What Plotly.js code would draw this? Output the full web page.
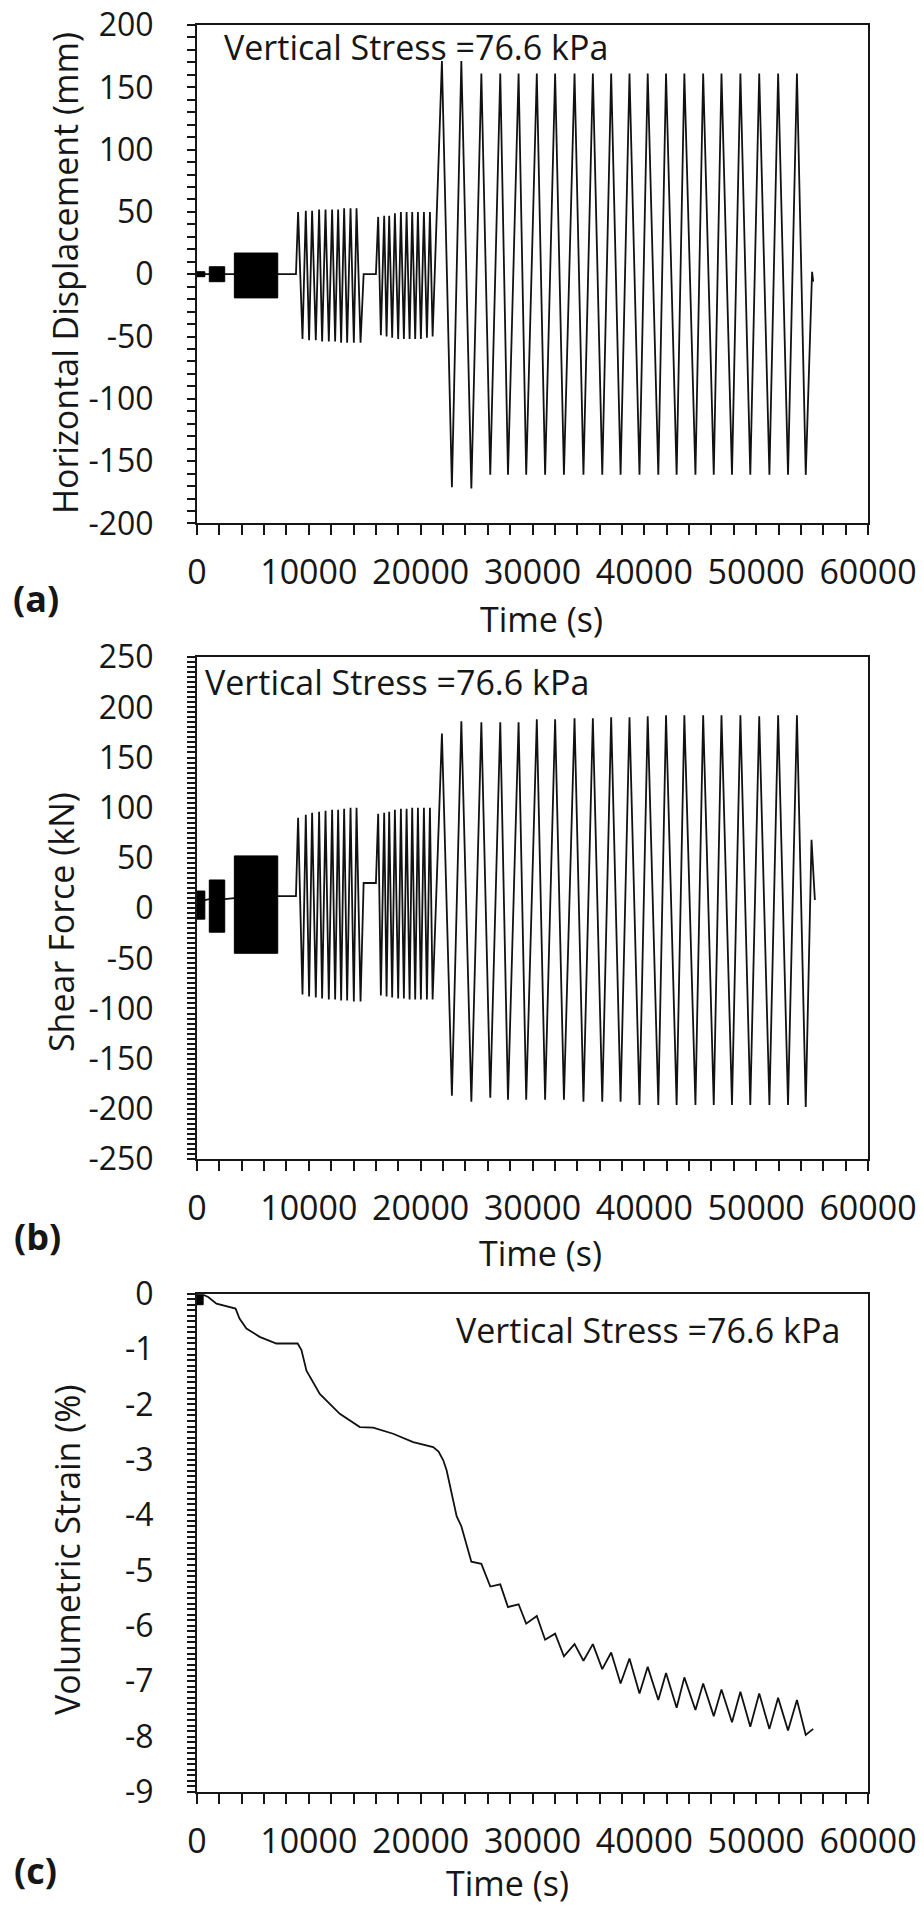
<!DOCTYPE html>
<html>
<head>
<meta charset="utf-8">
<script src="https://cdn.plot.ly/plotly-3.0.1.min.js"></script>
<style>
html, body { margin: 0; padding: 0; background: #ffffff; }
#chart { width: 924px; height: 1907px; }
</style>
</head>
<body>
<div id="chart"></div>
<script>
// ---------------- DATA ----------------
// Timing of the resolved load cycles (s), shared by all three records
const stage3UpT = [9040, 9729, 10293, 10919, 11492, 12083, 12620, 13157, 13729, 14266];
const stage3LoT = [9433, 10024, 10624, 11188, 11787, 12351, 12888, 13425, 14025, 14624];
const stage4UpT = [16200, 16737, 17185, 17695, 18232, 18742, 19243, 19754, 20291, 20828];
const stage4LoT = [16441, 16951, 17452, 17989, 18500, 19010, 19511, 20021, 20559, 21069];
const stage5UpT = [21900, 23637, 25427, 27118, 28756, 30385, 32023, 33759, 35397, 37035,
                   38673, 40302, 41940, 43578, 45260, 46898, 48590, 50272, 51964, 53646];
const stage5LoT = [22794, 24533, 26224, 27808, 29437, 31128, 32811, 34556, 36238, 37876,
                   39567, 41250, 42888, 44570, 46208, 47837, 49475, 51184, 52849, 54433];

// Dense (unresolved) cycling stages: start and end times (s)
const denseStartT = [0, 1100, 3340];
const denseEndT = [700, 2480, 7220];

// (a) Horizontal displacement (mm)
const hdDenseHigh = [2, 6, 17];
const hdDenseLow = [-2, -6, -19];
const hdRestT = [0, 8850, 14900, 16000, 55000, 55100];
const hdRestV = [0, 0, 0, 0, 2, -6];
const hdStage3Up = [50, 51, 51, 52, 52, 52, 52, 53, 53, 53];
const hdStage3Lo = [-52, -53, -53, -54, -54, -54, -55, -55, -55, -55];
const hdStage4Up = [46, 47, 47, 49, 50, 50, 50, 50, 50, 50];
const hdStage4Lo = [-49, -50, -51, -52, -52, -52, -52, -52, -51, -50];
const hdStage5Up = [171, 171, 161, 161, 161, 161, 161, 161, 161, 161,
                    161, 161, 161, 161, 161, 161, 161, 161, 161, 161];
const hdStage5Lo = [-171, -172, -161, -161, -161, -161, -161, -161, -161, -161,
                    -161, -161, -161, -161, -161, -161, -161, -161, -161, -161];

// (b) Shear force (kN)
const sfDenseHigh = [17, 28, 52];
const sfDenseLow = [-11, -24, -45];
const sfRestT = [0, 700, 1100, 2480, 3340, 7220, 8850, 14900, 16000, 54950, 55250];
const sfRestV = [8, 8, 9, 9, 10, 12, 12, 25, 25, 68, 8];
const sfStage3Up = [90, 93, 95, 96, 97, 98, 98, 99, 100, 100];
const sfStage3Lo = [-86, -88, -89, -90, -91, -91, -92, -92, -93, -93];
const sfStage4Up = [94, 95, 96, 98, 99, 99, 100, 100, 100, 100];
const sfStage4Lo = [-87, -88, -89, -90, -90, -91, -91, -91, -91, -91];
const sfStage5Up = [174, 186, 185, 185, 185, 188, 188, 189, 189, 190,
                    190, 191, 192, 192, 192, 192, 192, 191, 192, 192];
const sfStage5Lo = [-187, -193, -189, -191, -191, -191, -191, -193, -193, -193,
                    -196, -196, -196, -196, -196, -196, -196, -196, -196, -198];

// (c) Volumetric strain (%)
const vsDenseStartT = [0];
const vsDenseEndT = [550];
const vsDenseHigh = [-0.02];
const vsDenseLow = [-0.2];
const vsT = [550, 1000, 1740, 2900, 3450, 3800, 4420, 5600, 7100, 9000, 9340, 9790,
             10980, 12770, 14560, 15750, 17540, 19330, 21120, 21600, 22020, 22320, 22794, 23216, 55100];
const vsV = [-0.02, -0.06, -0.18, -0.24, -0.27, -0.45, -0.63, -0.78, -0.90, -0.90, -1.02, -1.39,
             -1.81, -2.17, -2.41, -2.42, -2.53, -2.68, -2.77, -2.85, -3.01, -3.19, -3.60, -4.02, -7.86];
const vsCycleUp = [-4.20, -4.88, -5.25, -5.61, -5.82, -6.14, -6.33, -6.33, -6.48, -6.59,
                   -6.74, -6.85, -6.93, -7.04, -7.15, -7.19, -7.22, -7.30, -7.34];
const vsCycleLo = [-4.84, -5.29, -5.66, -5.96, -6.25, -6.55, -6.63, -6.78, -7.04, -7.22,
                   -7.34, -7.48, -7.52, -7.63, -7.74, -7.82, -7.86, -7.89, -7.97];

// Tick labels
const timeTickVals = [0, 10000, 20000, 30000, 40000, 50000, 60000];
const timeTickText = ['0', '10000', '20000', '30000', '40000', '50000', '60000'];
const hdTickVals = [-200, -150, -100, -50, 0, 50, 100, 150, 200];
const hdTickText = ['-200', '-150', '-100', '-50', '0', '50', '100', '150', '200'];
const sfTickVals = [-250, -200, -150, -100, -50, 0, 50, 100, 150, 200, 250];
const sfTickText = ['-250', '-200', '-150', '-100', '-50', '0', '50', '100', '150', '200', '250'];
const vsTickVals = [-9, -8, -7, -6, -5, -4, -3, -2, -1, 0];
const vsTickText = ['-9', '-8', '-7', '-6', '-5', '-4', '-3', '-2', '-1', '0'];

// Texts
const stressLabel = 'Vertical Stress =76.6 kPa';
const timeTitle = 'Time (s)';
const yTitles = ['Horizontal Displacement (mm)', 'Shear Force (kN)', 'Volumetric Strain (%)'];
const panelLetters = ['(a)', '(b)', '(c)'];

// ---------------- BUILD TRACES ----------------
function mergeSeries(groups) {
  const pts = [];
  groups.forEach(function (g) {
    for (let i = 0; i < g[0].length; i++) pts.push([g[0][i], g[1][i]]);
  });
  pts.sort(function (a, b) { return a[0] - b[0]; });
  return { x: pts.map(function (p) { return p[0]; }), y: pts.map(function (p) { return p[1]; }) };
}
function denseBlocks(t0, t1, hi, lo) {
  const x = [], y = [];
  for (let i = 0; i < t0.length; i++) {
    x.push(t0[i], t0[i], t1[i], t1[i], t0[i], null);
    y.push(lo[i], hi[i], hi[i], lo[i], lo[i], null);
  }
  return { x: x, y: y };
}

const INK = '#161616';
const LINE = '#111111';
const FONT = 'Open Sans, sans-serif';
const FS = 34;
const YFS = 32;

const hdLine = mergeSeries([[hdRestT, hdRestV], [stage3UpT, hdStage3Up], [stage3LoT, hdStage3Lo],
  [stage4UpT, hdStage4Up], [stage4LoT, hdStage4Lo], [stage5UpT, hdStage5Up], [stage5LoT, hdStage5Lo]]);
const sfLine = mergeSeries([[sfRestT, sfRestV], [stage3UpT, sfStage3Up], [stage3LoT, sfStage3Lo],
  [stage4UpT, sfStage4Up], [stage4LoT, sfStage4Lo], [stage5UpT, sfStage5Up], [stage5LoT, sfStage5Lo]]);
const vsLine = mergeSeries([[vsT, vsV], [stage5UpT.slice(1), vsCycleUp], [stage5LoT.slice(1), vsCycleLo]]);

const hdDense = denseBlocks(denseStartT, denseEndT, hdDenseHigh, hdDenseLow);
const sfDense = denseBlocks(denseStartT, denseEndT, sfDenseHigh, sfDenseLow);
const vsDense = denseBlocks(vsDenseStartT, vsDenseEndT, vsDenseHigh, vsDenseLow);

function lineTrace(s, xa, ya) {
  return { type: 'scatter', mode: 'lines', x: s.x, y: s.y, xaxis: xa, yaxis: ya,
    line: { color: LINE, width: 1.8 }, hoverinfo: 'skip', showlegend: false };
}
function fillTrace(s, xa, ya) {
  return { type: 'scatter', mode: 'lines', x: s.x, y: s.y, xaxis: xa, yaxis: ya, fill: 'toself',
    fillcolor: '#000000', line: { color: '#000000', width: 1 }, hoverinfo: 'skip', showlegend: false };
}

const data = [
  lineTrace(hdLine, 'x', 'y'), fillTrace(hdDense, 'x', 'y'),
  lineTrace(sfLine, 'x2', 'y2'), fillTrace(sfDense, 'x2', 'y2'),
  lineTrace(vsLine, 'x3', 'y3'), fillTrace(vsDense, 'x3', 'y3')
];

// ---------------- LAYOUT ----------------
const W = 924, H = 1907;
const PL = 197.3, PR = 868, PT = 24.5, PB = 1791.7;
function px(xp) { return (xp - PL) / (PR - PL); }
function py(yp) { return (PB - yp) / (PB - PT); }

function xAxis(anchor) {
  return {
    anchor: anchor, domain: [0, 1], range: [0, 60000],
    tickmode: 'array', tickvals: timeTickVals, ticktext: timeTickText,
    ticks: 'outside', ticklen: 10, tickwidth: 2, tickcolor: INK,
    showline: true, linewidth: 2, linecolor: INK, mirror: true,
    showgrid: false, zeroline: false, fixedrange: true,
    tickfont: { family: FONT, size: FS, color: INK }, ticklabelstandoff: 8,
    minor: { tickmode: 'linear', tick0: 0, dtick: 2000, ticks: 'outside', ticklen: 10, tickwidth: 2, tickcolor: INK, showgrid: false }
  };
}
function yAxis(anchor, domain, range, vals, text, minorDtick) {
  return {
    anchor: anchor, domain: domain, range: range,
    tickmode: 'array', tickvals: vals, ticktext: text,
    ticks: 'outside', ticklen: 8, tickwidth: 2, tickcolor: INK,
    showline: true, linewidth: 2, linecolor: INK, mirror: true,
    showgrid: false, zeroline: false, fixedrange: true,
    tickfont: { family: FONT, size: YFS, color: INK }, ticklabelstandoff: 27,
    minor: { tickmode: 'linear', tick0: 0, dtick: minorDtick, ticks: 'outside', ticklen: 8, tickwidth: 2, tickcolor: INK, showgrid: false }
  };
}

function textAnn(text, xp, yp, xanchor, size, angle, bold) {
  return { text: bold ? '<b>' + text + '</b>' : text, xref: 'paper', yref: 'paper', x: px(xp), y: py(yp),
    xanchor: xanchor, yanchor: 'middle', showarrow: false, textangle: angle || 0,
    font: { family: FONT, size: size, color: INK } };
}

const annotations = [
  textAnn(stressLabel, 222, 47, 'left', FS),
  textAnn(stressLabel, 203, 682, 'left', FS),
  textAnn(stressLabel, 842, 1330, 'right', FS),
  textAnn(timeTitle, 542, 619, 'center', FS),
  textAnn(timeTitle, 541, 1253, 'center', FS),
  textAnn(timeTitle, 508, 1883, 'center', FS),
  textAnn(yTitles[0], 66, 273, 'center', FS, -90),
  textAnn(yTitles[1], 62, 922, 'center', FS, -90),
  textAnn(yTitles[2], 68, 1550, 'center', FS, -90),
  textAnn(panelLetters[0], 36, 598, 'center', 36, 0, true),
  textAnn(panelLetters[1], 38, 1236, 'center', 36, 0, true),
  textAnn(panelLetters[2], 36, 1870, 'center', 36, 0, true)
];

const layout = {
  width: W, height: H,
  margin: { l: PL, r: W - PR, t: PT, b: H - PB, pad: 0 },
  paper_bgcolor: '#ffffff', plot_bgcolor: '#ffffff',
  showlegend: false,
  font: { family: FONT, size: FS, color: INK },
  xaxis: xAxis('y'),
  xaxis2: xAxis('y2'),
  xaxis3: xAxis('y3'),
  yaxis: yAxis('x', [py(523), 1], [-200, 200], hdTickVals, hdTickText, 10),
  yaxis2: yAxis('x2', [py(1158.7), py(656.7)], [-250, 250], sfTickVals, sfTickText, 5),
  yaxis3: yAxis('x3', [0, py(1293.3)], [-9, 0], vsTickVals, vsTickText, 0.1),
  annotations: annotations
};

Plotly.newPlot('chart', data, layout, { staticPlot: true, displayModeBar: false });
</script>
</body>
</html>
